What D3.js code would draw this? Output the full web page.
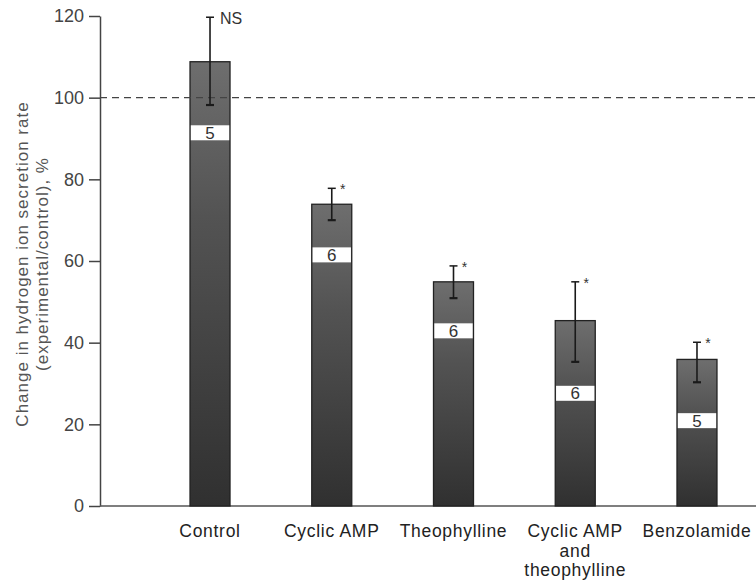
<!DOCTYPE html>
<html>
<head>
<meta charset="utf-8">
<script src="https://cdn.jsdelivr.net/npm/d3@7/dist/d3.min.js"></script>
<style>
  html, body { margin: 0; padding: 0; background: #fff; }
  svg { display: block; font-family: "Liberation Sans", Arial, Helvetica, sans-serif; }
</style>
</head>
<body>
<svg id="chart" width="756" height="582"></svg>
<script>
// ---- data ----
const categories = ["Control", "Cyclic AMP", "Theophylline", "Cyclic AMP|and|theophylline", "Benzolamide"];
const means      = [108.8, 73.9, 54.9, 45.4, 35.9];
const upperErr   = [119.7, 77.8, 58.8, 54.9, 40.1];
const lowerErr   = [98.2, 70.0, 50.9, 35.3, 30.3];
const nValues    = ["5", "6", "6", "6", "5"];
const nLabelPos  = [91.4, 61.5, 42.9, 27.6, 20.9];
const marks      = ["NS", "*", "*", "*", "*"];
const yTicks     = [0, 20, 40, 60, 80, 100, 120];
const referenceLevel = 100;
const yLabelLines = ["Change in hydrogen ion secretion rate", "(experimental/control), %"];

// ---- layout ----
const svg = d3.select("#chart");
const axisX = 100, x0 = 104.8, x1 = 802.2, yBottom = 506, yTop = 16;

const x = d3.scaleBand().domain(categories).range([x0, x1]).paddingInner(0.6715).paddingOuter(0.7);
const y = d3.scaleLinear().domain([0, 120]).range([yBottom, yTop]);

// gradient for bars
const defs = svg.append("defs");
const grad = defs.append("linearGradient").attr("id", "barGrad")
  .attr("x1", 0).attr("y1", 0).attr("x2", 0).attr("y2", 1);
grad.append("stop").attr("offset", "0%").attr("stop-color", "#6e6e6e");
grad.append("stop").attr("offset", "35%").attr("stop-color", "#535353");
grad.append("stop").attr("offset", "100%").attr("stop-color", "#303030");

// y axis
const yAxis = d3.axisLeft(y).tickValues(yTicks).tickSize(11).tickPadding(5).tickSizeOuter(0);
const gy = svg.append("g").attr("transform", `translate(${axisX},0)`).call(yAxis);
gy.select(".domain").attr("stroke", "#444").attr("stroke-width", 1.5);
gy.selectAll(".tick line").attr("stroke", "#444").attr("stroke-width", 1.5);
gy.selectAll(".tick text").attr("fill", "#444").style("font-size", "18px")
  .style("font-family", "'Liberation Sans', Arial, sans-serif");

// x axis baseline
svg.append("line").attr("x1", axisX).attr("x2", 756).attr("y1", y(0)).attr("y2", y(0))
  .attr("stroke", "#555").attr("stroke-width", 1.5);

// bars
const data = categories.map((c, i) => ({ c, m: means[i], hi: upperErr[i], lo: lowerErr[i], n: nValues[i], np: nLabelPos[i], mk: marks[i] }));
const g = svg.append("g");
g.selectAll("rect.bar").data(data).join("rect").attr("class", "bar")
  .attr("x", d => x(d.c)).attr("width", x.bandwidth())
  .attr("y", d => y(d.m)).attr("height", d => y(0) - y(d.m))
  .attr("fill", "url(#barGrad)").attr("stroke", "#222").attr("stroke-width", 1.3);

// white bands with n
const bandH = 15;
g.selectAll("rect.band").data(data).join("rect").attr("class", "band")
  .attr("x", d => x(d.c) + 0.8).attr("width", x.bandwidth() - 1.6)
  .attr("y", d => y(d.np) - bandH / 2).attr("height", bandH).attr("fill", "#fff");
g.selectAll("text.n").data(data).join("text").attr("class", "n")
  .attr("x", d => x(d.c) + x.bandwidth() / 2).attr("y", d => y(d.np) + 6)
  .attr("text-anchor", "middle").attr("fill", "#333").style("font-size", "17px")
  .text(d => d.n);

// dashed reference line
svg.append("line").attr("x1", axisX).attr("x2", 756)
  .attr("y1", y(referenceLevel)).attr("y2", y(referenceLevel))
  .attr("stroke", "#444").attr("stroke-width", 1.3).attr("stroke-dasharray", "7,5");

// error bars
const eb = svg.append("g").attr("stroke", "#1a1a1a");
data.forEach(d => {
  const cx = x(d.c) + x.bandwidth() / 2;
  eb.append("line").attr("x1", cx).attr("x2", cx).attr("y1", y(d.lo)).attr("y2", y(d.hi)).attr("stroke-width", 1.6);
  eb.append("line").attr("x1", cx - 4).attr("x2", cx + 4).attr("y1", y(d.hi)).attr("y2", y(d.hi)).attr("stroke-width", 1.5);
  eb.append("line").attr("x1", cx - 4).attr("x2", cx + 4).attr("y1", y(d.lo)).attr("y2", y(d.lo)).attr("stroke-width", 2.2);
});

// significance marks
data.forEach(d => {
  const cx = x(d.c) + x.bandwidth() / 2;
  if (d.mk === "NS") {
    svg.append("text").attr("x", cx + 10).attr("y", y(d.hi) + 7)
      .attr("fill", "#333").style("font-size", "16px").text(d.mk);
  } else {
    svg.append("text").attr("x", cx + 11).attr("y", y(d.hi) + 6)
      .attr("text-anchor", "middle").attr("fill", "#333").style("font-size", "14px").text(d.mk);
  }
});

// category labels
const lab = svg.append("g");
data.forEach(d => {
  const cx = x(d.c) + x.bandwidth() / 2;
  const lines = d.c.split("|");
  const t = lab.append("text").attr("text-anchor", "middle").attr("fill", "#222")
    .style("font-size", "17.5px").style("letter-spacing", "0.7px");
  lines.forEach((ln, i) => {
    t.append("tspan").attr("x", cx).attr("y", 537 + i * 19.5).text(ln);
  });
});

// y axis title
const yl = svg.append("text").attr("transform", "translate(28,264) rotate(-90)")
  .attr("text-anchor", "middle").attr("fill", "#555")
  .style("font-size", "17px").style("letter-spacing", "1px");
yLabelLines.forEach((ln, i) => {
  yl.append("tspan").attr("x", 0).attr("y", i * 20).text(ln);
});
</script>
</body>
</html>
